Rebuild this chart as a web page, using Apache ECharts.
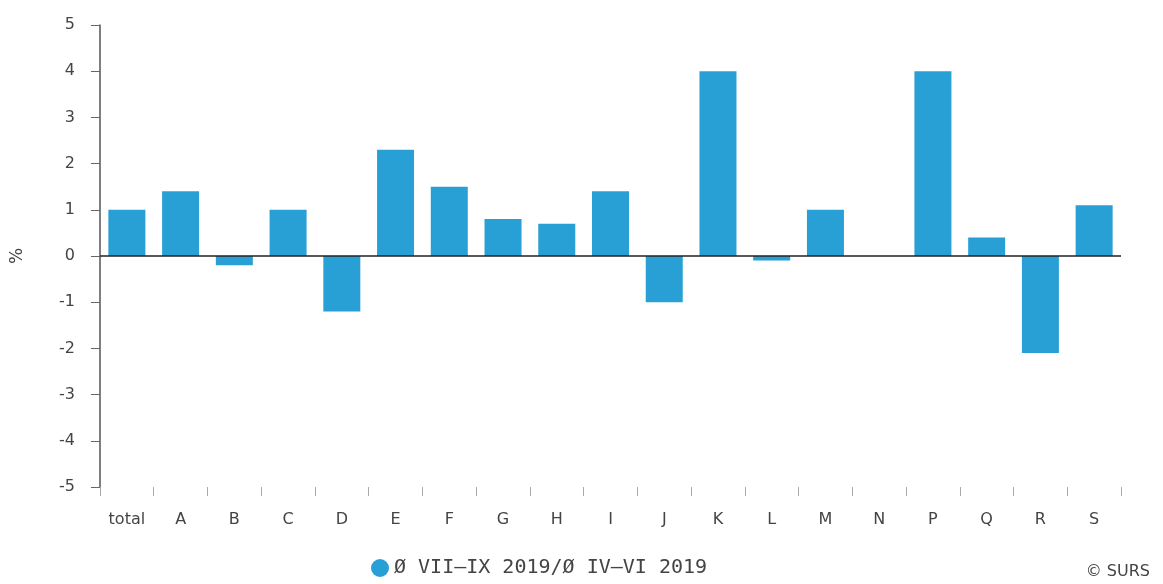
<!DOCTYPE html>
<html>
<head>
<meta charset="utf-8">
<script src="https://cdn.jsdelivr.net/npm/echarts@6/dist/echarts.min.js"></script>
<style>
  html, body { margin: 0; padding: 0; background: #fff; }
  #chart { width: 1163px; height: 584px; }
</style>
</head>
<body>
<div id="chart"></div>
<script>
const categories = ["total", "A", "B", "C", "D", "E", "F", "G", "H", "I", "J", "K", "L", "M", "N", "P", "Q", "R", "S"];
const changeValues = [1.0, 1.4, -0.2, 1.0, -1.2, 2.3, 1.5, 0.8, 0.7, 1.4, -1.0, 4.0, -0.1, 1.0, 0, 4.0, 0.4, -2.1, 1.1];
const seriesName = "Ø VII–IX 2019/Ø IV–VI 2019";

const barColor = "#29a0d5";
const labelColor = "#444";
const labelFont = "DejaVu Sans, Verdana, sans-serif";

let chart = echarts.init(document.getElementById("chart"));
chart.setOption({
  animation: false,
  grid: {
    left: 100,
    right: 42,
    top: 25,
    bottom: 97,
  },
  legend: {
    left: 366,
    bottom: 1,
    itemWidth: 18,
    itemHeight: 18,
    itemGap: 8,
    icon: "circle",
    textStyle: {
      fontFamily: "DejaVu Sans Mono, monospace",
      fontSize: 20,
      color: "#444",
    },
    data: [seriesName],
  },
  graphic: [
    {
      type: "text",
      right: 13,
      bottom: 4,
      style: {
        text: "© SURS",
        font: "16px DejaVu Sans, Verdana, sans-serif",
        fill: "#444",
      },
    },
  ],
  xAxis: {
    type: "category",
    data: categories,
    axisLine: { show: false, onZero: false },
    axisTick: {
      show: true,
      inside: false,
      length: 9,
      lineStyle: { color: "#aaa" },
    },
    axisLabel: {
      margin: 25,
      fontSize: 16,
      color: labelColor,
      fontFamily: labelFont,
    },
  },
  yAxis: {
    type: "value",
    min: -5,
    max: 5,
    interval: 1,
    name: "%",
    nameLocation: "middle",
    nameGap: 74,
    nameRotate: 90,
    nameTextStyle: {
      fontSize: 17,
      color: labelColor,
      fontFamily: labelFont,
    },
    splitLine: { show: false },
    axisLine: {
      show: true,
      lineStyle: { color: "#555", width: 1.5 },
    },
    axisTick: {
      show: true,
      length: 9,
      lineStyle: { color: "#666" },
    },
    axisLabel: {
      margin: 25,
      fontSize: 16,
      color: labelColor,
      fontFamily: labelFont,
    },
  },
  series: [
    {
      name: seriesName,
      type: "bar",
      data: changeValues,
      barWidth: 37,
      itemStyle: { color: barColor },
      markLine: {
        silent: true,
        symbol: "none",
        label: { show: false },
        lineStyle: { color: "#222", width: 1.5, type: "solid" },
        data: [{ yAxis: 0 }],
      },
    },
  ],
});
</script>
</body>
</html>
